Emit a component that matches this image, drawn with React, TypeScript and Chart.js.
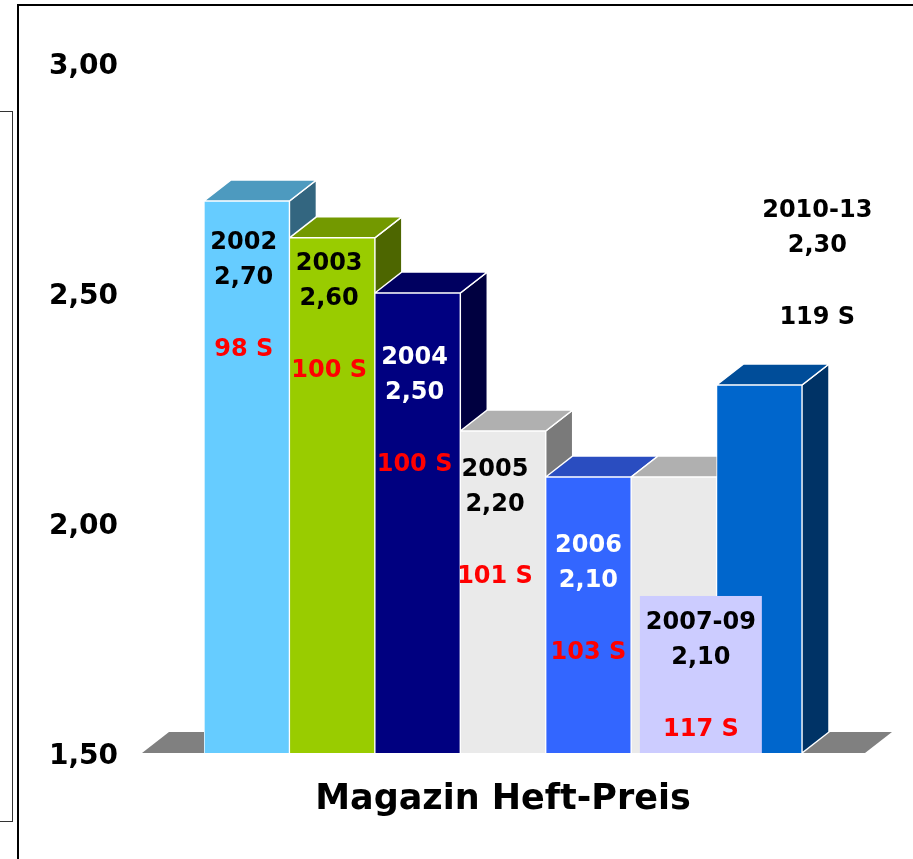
import React, { useEffect, useRef } from 'react';
import { Chart, registerables } from 'chart.js';

Chart.register(...registerables);

// ---------- data ----------
const categories = ['2002', '2003', '2004', '2005', '2006', '2007-09', '2010-13'];
const prices = [2.7, 2.62, 2.5, 2.2, 2.1, 2.1, 2.3];
const priceLabels = ['2,70', '2,60', '2,50', '2,20', '2,10', '2,10', '2,30'];
const pageLabels = ['98 S', '100 S', '100 S', '101 S', '103 S', '117 S', '119 S'];
const yTickValues = [1.5, 2.0, 2.5, 3.0];
const axisTitle = 'Magazin Heft-Preis';

// ---------- styles ----------
const FONT = '"DejaVu Sans", Verdana, sans-serif';
const FRONT = ['#66CCFF', '#99CC00', '#000080', '#EAEAEA', '#3366FF', '#EAEAEA', '#0066CC'];
const TOP = ['#4D9ABF', '#739900', '#000060', '#B0B0B0', '#2A4DC0', '#B0B0B0', '#004D99'];
const SIDE = ['#336680', '#4D6600', '#000040', '#7A7A7A', '#1A3380', '#7A7A7A', '#003366'];
const TEXT_COLOR = ['#000', '#000', '#fff', '#000', '#fff', '#000', '#000'];
const PAGE_COLOR = ['#FF0000', '#FF0000', '#FF0000', '#FF0000', '#FF0000', '#FF0000', '#000'];
// label anchor: horizontal pixel offset from bar centre, vertical anchor in axis units
const LABEL_DX = [-3, -3, -3, -8, 0, 27, 58];
const LABEL_AT = [2.613, 2.567, 2.363, 2.12, 1.954, 1.787, 2.683];
const LABEL_BOX = [null, null, null, null, null, '#CCCCFF', null];
const DX = 27;
const DY = -21;
const FLOOR_LEFT = 62;
const FLOOR_RIGHT = 63;

function poly(ctx: CanvasRenderingContext2D, pts: number[][], fill: string) {
  ctx.beginPath();
  ctx.moveTo(pts[0][0], pts[0][1]);
  for (let i = 1; i < pts.length; i++) ctx.lineTo(pts[i][0], pts[i][1]);
  ctx.closePath();
  ctx.fillStyle = fill;
  ctx.fill();
  ctx.strokeStyle = '#FFFFFF';
  ctx.lineWidth = 1.5;
  ctx.stroke();
}

const threeD = {
  id: 'threeD',
  beforeDatasetsDraw(chart: any) {
    const { ctx, chartArea } = chart;
    const yScale = chart.scales.y;
    const base = yScale.getPixelForValue(yScale.min);
    ctx.save();
    ctx.beginPath();
    ctx.moveTo(chartArea.left - FLOOR_LEFT, base);
    ctx.lineTo(chartArea.left - FLOOR_LEFT + DX, base + DY);
    ctx.lineTo(chartArea.right + FLOOR_RIGHT + DX, base + DY);
    ctx.lineTo(chartArea.right + FLOOR_RIGHT, base);
    ctx.closePath();
    ctx.fillStyle = '#808080';
    ctx.fill();
    const meta = chart.getDatasetMeta(0);
    meta.data.forEach((bar: any, i: number) => {
      const p = bar.getProps(['x', 'y', 'width'], true);
      const l = p.x - p.width / 2;
      const r = p.x + p.width / 2;
      const t = p.y;
      const b = base;
      poly(ctx, [[r, t], [r + DX, t + DY], [r + DX, b + DY], [r, b]], SIDE[i]);
      poly(ctx, [[l, t], [l + DX, t + DY], [r + DX, t + DY], [r, t]], TOP[i]);
    });
    ctx.restore();
  },
  afterDatasetsDraw(chart: any) {
    const { ctx } = chart;
    const yScale = chart.scales.y;
    const base = yScale.getPixelForValue(yScale.min);
    const meta = chart.getDatasetMeta(0);
    ctx.save();
    ctx.textAlign = 'center';
    ctx.textBaseline = 'middle';
    ctx.font = `bold 24px ${FONT}`;
    meta.data.forEach((bar: any, i: number) => {
      const cx = bar.x + LABEL_DX[i];
      const y0 = yScale.getPixelForValue(LABEL_AT[i]) + 2;
      const box = LABEL_BOX[i];
      if (box) {
        ctx.fillStyle = box;
        ctx.fillRect(cx - 61, y0 - 27, 122, base - (y0 - 27));
      }
      ctx.fillStyle = TEXT_COLOR[i];
      ctx.fillText(categories[i], cx, y0);
      ctx.fillText(priceLabels[i], cx, y0 + 35);
      ctx.fillStyle = PAGE_COLOR[i];
      ctx.fillText(pageLabels[i], cx, y0 + 107);
    });
    ctx.restore();
  },
};

export default function App() {
  const ref = useRef<HTMLCanvasElement | null>(null);
  useEffect(() => {
    if (!ref.current) return;
    const chart = new Chart(ref.current, {
      type: 'bar',
      data: {
        labels: categories,
        datasets: [
          {
            data: prices,
            backgroundColor: FRONT,
            borderColor: '#FFFFFF',
            borderWidth: 1,
            borderSkipped: 'start',
            categoryPercentage: 1,
            barPercentage: 1,
          },
        ],
      },
      options: {
        responsive: false,
        animation: false,
        devicePixelRatio: 1,
        layout: { padding: { left: 49, right: 111, top: 63, bottom: 34 } },
        plugins: { legend: { display: false }, tooltip: { enabled: false }, title: { display: false } },
        scales: {
          x: {
            ticks: { display: false },
            grid: { display: false, drawTicks: false },
            border: { display: false },
            title: {
              display: true,
              text: axisTitle,
              color: '#000',
              font: { family: FONT, size: 35, weight: 'bold', lineHeight: 1.2 },
              padding: { top: 26, bottom: 4 },
            },
          },
          y: {
            min: 1.5,
            max: 3.0,
            afterBuildTicks: (scale: any) => {
              scale.ticks = yTickValues.map((v) => ({ value: v }));
            },
            afterFit: (scale: any) => {
              scale.width = 155;
            },
            ticks: {
              color: '#000',
              padding: 0,
              crossAlign: 'far',
              labelOffset: 4,
              font: { family: FONT, size: 28, weight: 'bold' },
              callback: (v: any) => Number(v).toFixed(2).replace('.', ','),
            },
            grid: { display: false, drawTicks: false },
            border: { display: false },
          },
        },
      },
      plugins: [threeD],
    } as any);
    return () => chart.destroy();
  }, []);

  return (
    <div style={{ position: 'absolute', left: 0, top: 0, width: 913, height: 859, background: '#fff', overflow: 'hidden' }}>
      <canvas ref={ref} width={913} height={859} style={{ display: 'block', position: 'absolute', left: 0, top: 0 }} />
      <div style={{ position: 'absolute', left: 17, top: 4, width: 896, height: 2, background: '#000' }} />
      <div style={{ position: 'absolute', left: 17, top: 4, width: 2, height: 855, background: '#000' }} />
      <div style={{ position: 'absolute', left: -1, top: 111, width: 12, height: 709, border: '1px solid #333' }} />
    </div>
  );
}
